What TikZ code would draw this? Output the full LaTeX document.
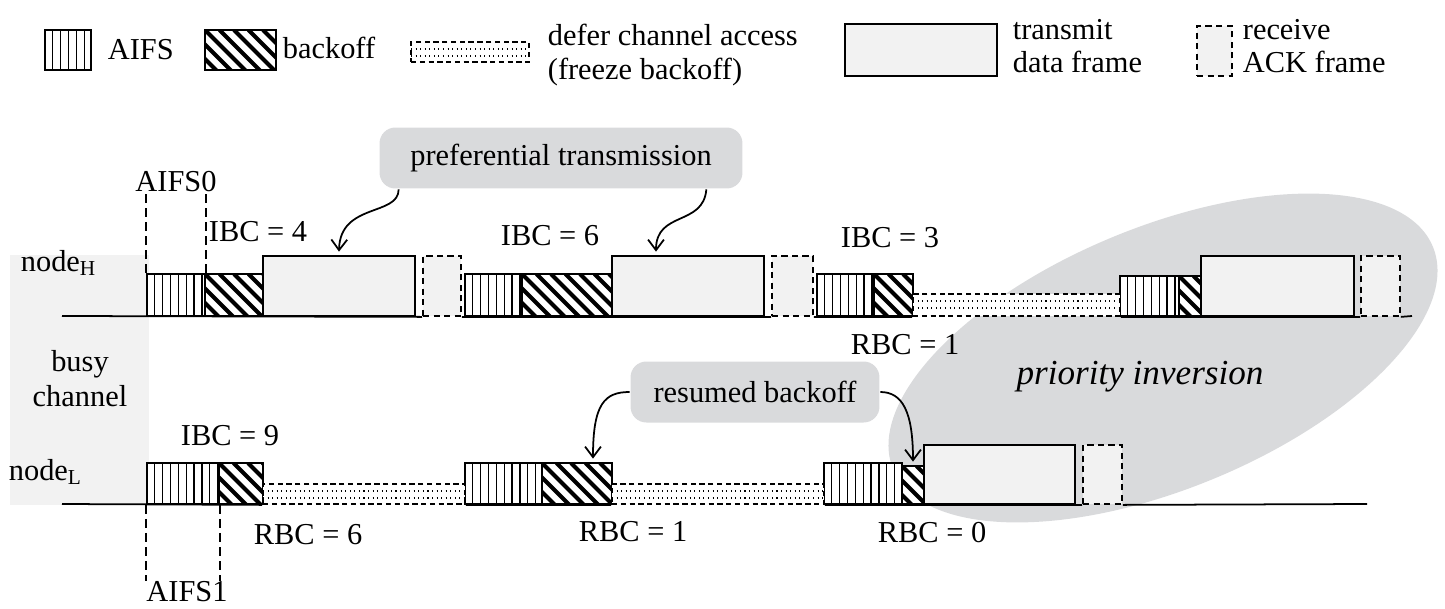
\documentclass[tikz,border=0pt]{standalone}
\usepackage{fontspec}
\setmainfont{Liberation Serif}
\usetikzlibrary{arrows.meta, fit, shapes.geometric}
\definecolor{framefill}{gray}{0.95}
\definecolor{notefill}{RGB}{217,218,220}
\tikzset{every picture/.style={line width=1pt}}

\begin{document}
\begin{tikzpicture}[x=0.02cm, y=-0.02cm,
    every node/.style={font=\fontsize{17.3}{20}\selectfont, inner sep=0pt},
    aifs/.style={draw, fill=white, path picture={
        \foreach \k in {1,...,12}
            \draw[line width=0.7pt] ([xshift=\k*0.157cm]path picture bounding box.south west) -- ++(0,2cm);}},
    backoff/.style={draw, fill=white, path picture={
        \foreach \k in {-5,...,9}
            \draw[line width=2.3pt] ([xshift=\k*0.29cm]path picture bounding box.north west) -- ++(1.5cm,-1.5cm);}},
    defer/.style={draw, fill=white, dash pattern=on 3pt off 2pt, path picture={
        \draw[line width=0.6pt, dash pattern=on 0.6pt off 2pt] ([yshift=-0.14cm]path picture bounding box.north west) -- ++(10cm,0);
        \draw[line width=0.6pt, dash pattern=on 0.6pt off 2pt] ([yshift=-0.28cm]path picture bounding box.north west) -- ++(10cm,0);}},
    data/.style={draw, fill=framefill},
    ack/.style={draw, fill=framefill, dash pattern=on 3.5pt off 2.5pt},
    note/.style={fill=notefill, rounded corners=9pt, minimum height=1.22cm},
    guide/.style={line width=0.8pt, dash pattern=on 5pt off 3pt},
    link/.style={-{Straight Barb[length=6pt,width=9pt]}, line width=1pt}]

    \useasboundingbox (0,0) rectangle (1445,609);

    \node[ellipse, fill=notefill, minimum width=11.68cm, minimum height=5.24cm, rotate=22.4] (pinv) at (1163,358) {};
    \node[fill=framefill, fit={(10,255) (149,505)}] (busy) {};

    \foreach \n/\xa/\xb/\yt/\yb in {h1a/147/205/274/316, h2a/465/522/274/316, h3a/817/874/274/316,
            h4a/1120/1179/276/316, l1a/147/219/463/504, l2a/465/542/463/504, l3a/824/902/463/504, keya/45/91/30/70}
        \node[aifs, fit={(\xa,\yt) (\xb,\yb)}] (\n) {};
    \foreach \n/\xa/\xb/\yt/\yb in {h1b/205/263/274/316, h2b/522/612/274/316, h3b/874/913/274/316,
            h4b/1179/1201/276/316, l1b/219/263/463/504, l2b/542/612/463/504, l3b/902/924/466/504, keyb/205/276/30/70}
        \node[backoff, fit={(\xa,\yt) (\xb,\yb)}] (\n) {};
    \foreach \n/\xa/\xb/\yt/\yb in {h3d/913/1120/294/316, l1d/263/465/484/504, l2d/612/824/484/504, keyd/411/529/42/62}
        \node[defer, fit={(\xa,\yt) (\xb,\yb)}] (\n) {};
    \foreach \n/\xa/\xb/\yt/\yb in {h1t/263/415/256/316, h2t/612/764/256/316, h4t/1201/1354/256/316,
            l3t/924/1075/445/504, keyt/845/997/24/76}
        \node[data, fit={(\xa,\yt) (\xb,\yb)}] (\n) {};
    \foreach \n/\xa/\xb/\yt/\yb in {h1k/423/461/256/316, h2k/772/813/256/316, h4k/1361/1400/256/316,
            l3k/1083/1122/445/504, keyk/1197/1232/26/76}
        \node[ack, fit={(\xa,\yt) (\xb,\yb)}] (\n) {};

    \coordinate (hstart) at (62,316);
    \coordinate (hend) at (1412,316);
    \coordinate (lstart) at (62,504);
    \coordinate (lend) at (1367,504);
    \draw (hstart) -- (h1k.south west) (h1k.south east) -- (h2k.south west)
          (h2k.south east) -- (h3d.south west) (h3d.south east) -- (h4k.south west)
          (h4k.south east) -- (hend);
    \draw (lstart) -- (l1d.south west) (l1d.south east) -- (l2d.south west)
          (l2d.south east) -- (l3k.south west) (l3k.south east) -- (lend);

    % legend
    \node[anchor=west] (ka) at (107,50) {AIFS};
    \node[anchor=west] (kb) at (282,48) {backoff};
    \node[anchor=west] (kd1) at (547,35) {defer channel access};
    \node[anchor=west] (kd2) at (547,72) {(freeze backoff)};
    \node[anchor=west] (kt1) at (1012,30) {transmit};
    \node[anchor=west] (kt2) at (1012,62) {data frame};
    \node[anchor=west] (kk1) at (1242,30) {receive};
    \node[anchor=west] (kk2) at (1242,62) {ACK frame};

    \node[anchor=base west] (nh) at (20,271) {node\textsubscript{H}};
    \node[anchor=base west] (nl) at (8,480) {node\textsubscript{L}};
    \node[align=center] (busytext) at (80,379) {busy\\channel};

    \node[anchor=west] (ibc4) at (208,232) {IBC = 4};
    \node[anchor=west] (ibc6) at (500,236) {IBC = 6};
    \node[anchor=west] (ibc3) at (840,238) {IBC = 3};
    \node[anchor=west] (ibc9) at (180,436) {IBC = 9};
    \node[anchor=west] (rbch) at (850,345) {RBC = 1};
    \node[anchor=west] (rbc6) at (253,535) {RBC = 6};
    \node[anchor=west] (rbc1) at (578,532) {RBC = 1};
    \node[anchor=west] (rbc0) at (877,533) {RBC = 0};
    \node[font=\fontsize{20}{24}\selectfont\itshape] (pinvtext) at (1140,377) {priority inversion};

    \node (aifs0) at (176,182) {AIFS0};
    \draw[guide] (h1a.north west) -- (h1a.north west |- aifs0.south);
    \draw[guide] (h1a.north east) -- (h1a.north east |- aifs0.south);
    \node (aifs1) at (187,592) {AIFS1};
    \draw[guide] (l1a.south west) -- (l1a.south west |- aifs1.north);
    \draw[guide] (l1a.south east) -- (l1a.south east |- aifs1.north);

    \node[note, minimum width=7.26cm] (pref) at (561,158) {preferential transmission};
    \node[note, minimum width=4.98cm] (resm) at (755,392) {resumed backoff};

    \draw[link] ([xshift=0.4cm]pref.south west) .. controls +(0,27) and +(1,-49) .. ([yshift=2pt]h1t.north);
    \draw[link] ([xshift=-0.74cm]pref.south east) .. controls +(-3,37) and +(0,-41) .. ([xshift=-0.64cm,yshift=2pt]h2t.north);
    \draw[link] (resm.west) .. controls +(-25,0) and +(0,-55) .. ([xshift=0.32cm,yshift=2pt]l2b.north);
    \draw[link] (resm.east) .. controls +(22,0) and +(0,-50) .. ([yshift=2pt]l3b.north);
\end{tikzpicture}
\end{document}
